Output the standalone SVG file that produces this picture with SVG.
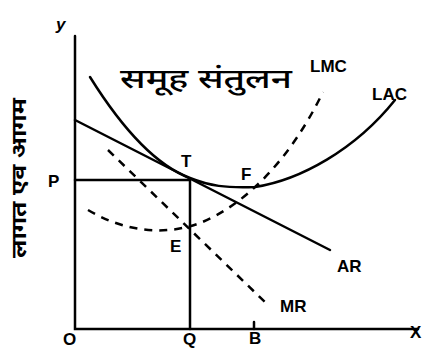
<svg xmlns="http://www.w3.org/2000/svg" width="429" height="350" viewBox="0 0 429 350">
<style>
.ln{fill:none;stroke:#000;stroke-width:2.5;stroke-linecap:round}
.ds{fill:none;stroke:#000;stroke-width:2.5;stroke-dasharray:8 7}
.lb{font-family:"Liberation Sans",Arial,sans-serif;font-size:17px;font-weight:bold;fill:#000}
.hi{font-family:"Noto Sans","Noto Sans Devanagari","Lohit Devanagari",sans-serif;fill:#000}
</style>
<rect width="429" height="350" fill="#fff"/>
<g id="axes">
<path class="ln" d="M75,36 V329 H418"/>
<path class="ln" d="M254,322 V329" stroke-width="1.5"/>
</g>
<g id="connectors">
<path class="ln" d="M75,180 H190 V329"/>
<path id="AR" class="ln" d="M75,120 L330,250"/>
<path id="LAC" class="ln" d="M90,77 C120,125 155,165 190,178 C210,186 225,188 255,187 C300,180 355,150 395,100"/>
<path id="MR" class="ds" d="M108,150 L268,305"/>
<path id="LMC" class="ds" d="M88,210 C125,232 165,236 200,223 C245,205 290,160 323,92"/>
</g>
<g id="labels">
<text class="lb" x="56" y="30" font-size="20" font-style="italic">y</text>
<text class="hi" x="120" y="88" font-size="27" font-weight="500" textLength="172" lengthAdjust="spacingAndGlyphs">समूह संतुलन</text>
<text class="lb" x="310" y="72">LMC</text>
<text class="lb" x="372" y="100">LAC</text>
<text class="lb" x="181" y="167">T</text>
<text class="lb" x="241" y="180">F</text>
<text class="lb" x="170" y="252">E</text>
<text class="lb" x="337" y="272">AR</text>
<text class="lb" x="280" y="312">MR</text>
<text class="lb" x="48" y="187">P</text>
<text class="lb" x="63" y="345">O</text>
<text class="lb" x="183" y="345">Q</text>
<text class="lb" x="249" y="344">B</text>
<text class="lb" x="410" y="338">X</text>
<text class="hi" font-size="20" font-weight="bold" text-anchor="middle" textLength="160" lengthAdjust="spacingAndGlyphs" transform="translate(26,178) rotate(-90)">लागत एव आगम</text>
</g>
</svg>
